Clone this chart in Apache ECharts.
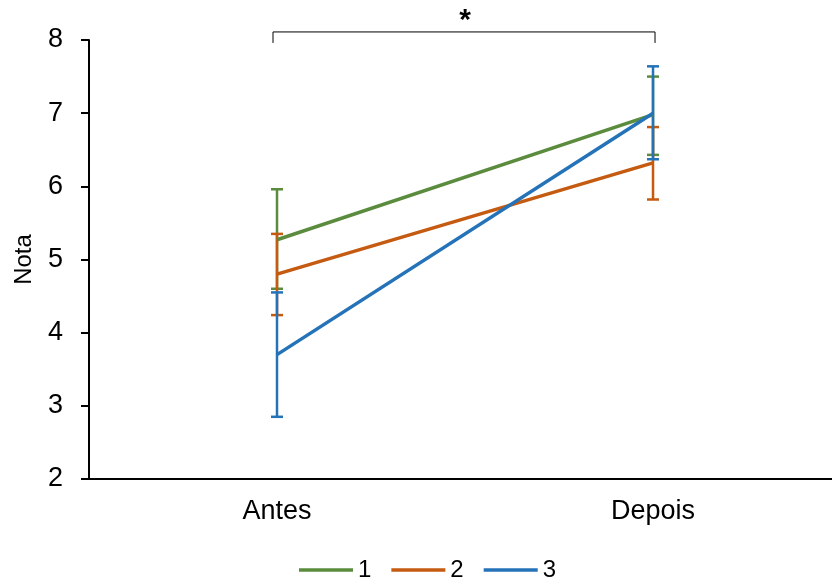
<!DOCTYPE html>
<html>
<head>
<meta charset="utf-8">
<script src="https://cdn.jsdelivr.net/npm/echarts@6/dist/echarts.min.js"></script>
<style>
  html, body { margin: 0; padding: 0; background: #fff; }
  #chart { width: 832px; height: 583px; }
</style>
</head>
<body>
<div id="chart"></div>
<script>
// Categories and group names
const categories = ['Antes', 'Depois'];
const groups = ['1', '2', '3'];
const colors = ['#5B8C3E', '#C55A11', '#2472B8'];

// Mean grade per group
const mean1 = [5.27, 6.98];
const mean2 = [4.80, 6.32];
const mean3 = [3.70, 7.00];

// Error bar limits (low, high) per group
const low1 = [4.60, 6.43];
const high1 = [5.96, 7.50];
const low2 = [4.24, 5.82];
const high2 = [5.35, 6.81];
const low3 = [2.85, 6.37];
const high3 = [4.55, 7.64];

// Significance bracket between the two moments
const bracketLevel = 8.11;
const bracketFoot = 7.96;
const starLevel = 8.26;

const means = [mean1, mean2, mean3];
const lows = [low1, low2, low3];
const highs = [high1, high2, high3];

const chart = echarts.init(document.getElementById('chart'));
const fontFamily = '"Liberation Sans", Arial, sans-serif';

// Category positions on a numeric x axis (index 0, 1); the axis runs past the right edge
const catIndex = categories.map((c, k) => k);

const lineSeries = groups.map((g, i) => ({
  name: g,
  type: 'line',
  data: catIndex.map(k => [k, means[i][k]]),
  showSymbol: false,
  symbol: 'none',
  lineStyle: { color: colors[i], width: 3.5 },
  itemStyle: { color: colors[i] },
  z: 3
}));

const errorSeries = groups.map((g, i) => ({
  name: g,
  type: 'custom',
  data: catIndex.map(k => [k, lows[i][k], highs[i][k]]),
  renderItem: function (params, api) {
    const x = api.value(0);
    const lo = api.coord([x, api.value(1)]);
    const hi = api.coord([x, api.value(2)]);
    const cap = 6;
    const style = { stroke: colors[i], lineWidth: 2.5, fill: null };
    return {
      type: 'group',
      children: [
        { type: 'line', shape: { x1: lo[0], y1: lo[1], x2: hi[0], y2: hi[1] }, style: style },
        { type: 'line', shape: { x1: lo[0] - cap, y1: lo[1], x2: lo[0] + cap, y2: lo[1] }, style: style },
        { type: 'line', shape: { x1: hi[0] - cap, y1: hi[1], x2: hi[0] + cap, y2: hi[1] }, style: style }
      ]
    };
  },
  z: 2
}));

const bracketSeries = {
  type: 'custom',
  name: 'bracket',
  silent: true,
  clip: false,
  data: [[0, 1]],
  renderItem: function (params, api) {
    const a = api.coord([0, bracketLevel]);
    const b = api.coord([1, bracketLevel]);
    const af = api.coord([0, bracketFoot]);
    const bf = api.coord([1, bracketFoot]);
    const sy = api.coord([0, starLevel])[1];
    return {
      type: 'group',
      children: [
        {
          type: 'polyline',
          shape: { points: [[af[0] - 4, af[1]], [a[0] - 4, a[1]], [b[0] + 2, b[1]], [bf[0] + 2, bf[1]]] },
          style: { stroke: '#000', lineWidth: 1, fill: null }
        },
        {
          type: 'text',
          style: {
            text: '*', x: (a[0] + b[0]) / 2, y: sy,
            align: 'center', verticalAlign: 'middle',
            font: 'bold 30px ' + fontFamily, fill: '#000'
          }
        }
      ]
    };
  }
};

chart.setOption({
  animation: false,
  backgroundColor: '#fff',
  grid: { left: 89, right: 0, top: 40, bottom: 104 },
  legend: {
    data: groups,
    top: 553,
    left: 294,
    icon: 'rect',
    itemWidth: 54,
    itemHeight: 3.5,
    itemGap: 20,
    textStyle: { fontSize: 24, color: '#000', fontFamily: fontFamily }
  },
  xAxis: {
    type: 'value',
    min: -0.5,
    max: 1.476,
    axisLine: { show: true, onZero: false, lineStyle: { color: '#000', width: 2 } },
    axisTick: { show: false },
    splitLine: { show: false },
    axisLabel: {
      customValues: catIndex,
      formatter: v => categories[Math.round(v)],
      fontSize: 27, color: '#000', fontFamily: fontFamily, margin: 19
    }
  },
  yAxis: {
    type: 'value',
    min: 2,
    max: 8,
    interval: 1,
    name: 'Nota',
    nameLocation: 'middle',
    nameGap: 53,
    nameTextStyle: { fontSize: 24, color: '#000', fontFamily: fontFamily },
    axisLine: { show: true, onZero: false, lineStyle: { color: '#000', width: 2 } },
    axisTick: { show: true, length: 8, lineStyle: { color: '#000', width: 2 } },
    axisLabel: { fontSize: 27, color: '#000', fontFamily: fontFamily, margin: 26 },
    splitLine: { show: false }
  },
  series: [...lineSeries, ...errorSeries, bracketSeries]
});
</script>
</body>
</html>
